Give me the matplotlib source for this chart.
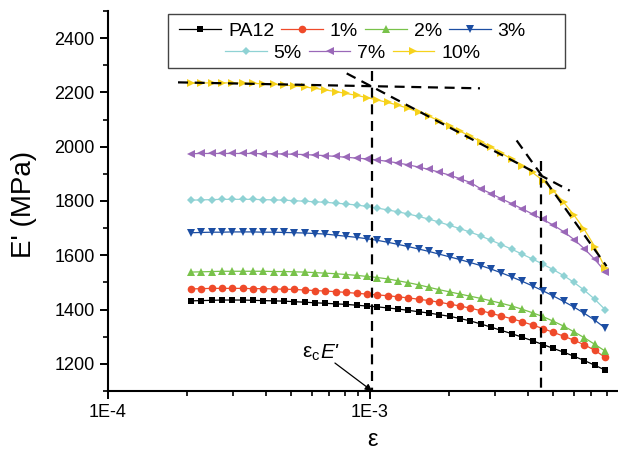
import numpy as np
import matplotlib
matplotlib.use("Agg")
import matplotlib.pyplot as plt
from matplotlib.ticker import FixedLocator, LogLocator, NullFormatter, MultipleLocator
from matplotlib.patches import Rectangle

plt.rcParams['font.family'] = ['Liberation Sans', 'DejaVu Sans']
plt.rcParams['mathtext.fontset'] = 'custom'
plt.rcParams['mathtext.rm'] = 'Liberation Sans'
plt.rcParams['mathtext.it'] = 'Liberation Sans:italic'

# strain amplitude (same grid for all samples)
strain = [2.070e-4, 2.267e-4, 2.484e-4, 2.720e-4, 2.980e-4, 3.264e-4, 3.574e-4, 3.915e-4,
          4.288e-4, 4.697e-4, 5.145e-4, 5.635e-4, 6.173e-4, 6.761e-4, 7.406e-4, 8.111e-4,
          8.884e-4, 9.731e-4, 1.0659e-3, 1.1675e-3, 1.2788e-3, 1.4007e-3, 1.5343e-3,
          1.6805e-3, 1.8408e-3, 2.0162e-3, 2.2080e-3, 2.4190e-3, 2.6490e-3, 2.9020e-3,
          3.1780e-3, 3.4810e-3, 3.8130e-3, 4.1760e-3, 4.5750e-3, 5.0110e-3, 5.4880e-3,
          6.0120e-3, 6.5840e-3, 7.2130e-3, 7.9000e-3]

# storage modulus E' (MPa)
pa12 = [1432, 1433, 1434, 1435, 1435, 1435, 1434, 1433, 1432, 1431,
        1429, 1427, 1425, 1423, 1421, 1419, 1416, 1413, 1410, 1406,
        1402, 1397, 1392, 1387, 1381, 1375, 1367, 1358, 1347, 1335,
        1323, 1311, 1298, 1285, 1271, 1257, 1243, 1228, 1212, 1195, 1177]
p1 = [1476, 1477, 1478, 1478, 1478, 1478, 1477, 1477, 1476, 1475,
      1474, 1472, 1470, 1468, 1466, 1463, 1460, 1457, 1454, 1451,
      1447, 1443, 1438, 1433, 1427, 1420, 1413, 1405, 1396, 1386,
      1376, 1366, 1355, 1343, 1330, 1316, 1302, 1287, 1270, 1250, 1224]
p2 = [1538, 1539, 1540, 1541, 1541, 1541, 1541, 1541, 1540, 1540,
      1539, 1538, 1536, 1534, 1532, 1529, 1526, 1522, 1518, 1513,
      1506, 1499, 1491, 1482, 1473, 1465, 1457, 1449, 1441, 1432,
      1423, 1413, 1401, 1388, 1374, 1357, 1339, 1318, 1296, 1272, 1247]
p3 = [1683, 1684, 1685, 1685, 1686, 1686, 1686, 1685, 1685, 1684,
      1683, 1682, 1680, 1678, 1674, 1670, 1666, 1661, 1655, 1648,
      1640, 1632, 1623, 1614, 1604, 1594, 1584, 1573, 1562, 1549,
      1535, 1520, 1504, 1487, 1469, 1450, 1430, 1409, 1386, 1361, 1332]
p5 = [1803, 1804, 1805, 1806, 1806, 1806, 1806, 1805, 1804, 1803,
      1801, 1799, 1797, 1795, 1792, 1789, 1785, 1780, 1774, 1767,
      1760, 1752, 1743, 1733, 1722, 1710, 1698, 1685, 1671, 1655,
      1639, 1622, 1604, 1586, 1567, 1547, 1525, 1500, 1471, 1438, 1400]
p7 = [1974, 1975, 1975, 1975, 1975, 1975, 1975, 1974, 1974, 1973,
      1972, 1971, 1969, 1967, 1964, 1961, 1958, 1955, 1951, 1946,
      1940, 1933, 1925, 1916, 1906, 1895, 1882, 1868, 1845, 1827,
      1808, 1790, 1771, 1752, 1732, 1711, 1687, 1658, 1624, 1585, 1540]
p10 = [2234, 2235, 2235, 2235, 2235, 2234, 2233, 2232, 2230, 2227,
       2224, 2220, 2215, 2209, 2203, 2196, 2189, 2181, 2172, 2163,
       2153, 2141, 2127, 2112, 2095, 2076, 2057, 2038, 2019, 1998,
       1976, 1954, 1930, 1905, 1875, 1838, 1795, 1748, 1695, 1632, 1554]

labels = ['PA12', '1%', '2%', '3%', '5%', '7%', '10%']
series = [pa12, p1, p2, p3, p5, p7, p10]
colors = ['#000000', '#ef4a2a', '#78c24a', '#1c4ea3', '#8fd2d4', '#9a68b8', '#f6d21c']
markers = ['s', 'o', '^', 'v', 'D', '<', '>']
msizes = [5, 5.5, 6, 6, 4.5, 6, 6]

# construction lines for the critical strain (x pairs, y pairs)
tan_flat_x, tan_flat_y = [1.85e-4, 2.63e-3], [2237, 2215]
tan_1_x, tan_1_y = [8.15e-4, 5.79e-3], [2270, 1838]
tan_2_x, tan_2_y = [3.63e-3, 8.00e-3], [2023, 1560]
vline_1_x, vline_1_y = [1.019e-3, 1.019e-3], [2279, 1100]
vline_2_x, vline_2_y = [4.50e-3, 4.50e-3], [1949, 1100]

fig = plt.figure(figsize=(6.18, 4.55), dpi=100)
ax = fig.add_axes([0.1748, 0.1407, 0.8252, 0.8352])

handles = []
for y, lab, c, m, ms in zip(series, labels, colors, markers, msizes):
    h, = ax.plot(strain, y, color=c, marker=m, markersize=ms, markeredgewidth=0,
                 lw=0.9, label=lab)
    handles.append(h)

dash = dict(color='black', lw=1.6, ls=(0, (4.5, 3)))
ax.plot(tan_flat_x, tan_flat_y, **dash)
ax.plot(tan_1_x, tan_1_y, **dash)
ax.plot(tan_2_x, tan_2_y, **dash)
ax.plot(vline_1_x, vline_1_y, **dash)
ax.plot(vline_2_x, vline_2_y, **dash)

ax.annotate('', xy=(1.019e-3, 1100), xytext=(7.35e-4, 1203),
            arrowprops=dict(arrowstyle='-|>', color='black', lw=0.9,
                            mutation_scale=10, shrinkA=0, shrinkB=0))
ax.text(6.45e-4, 1222, r"$\mathrm{\varepsilon}_{\mathrm{c}}$", fontsize=15,
        ha='right', va='baseline')
ax.text(6.45e-4, 1222, "E'", fontsize=15, style='italic', ha='left', va='baseline')

ax.set_xscale('log')
ax.set_xlim(1e-4, 8.85e-3)
ax.set_ylim(1100, 2500)
ax.xaxis.set_major_locator(FixedLocator([1e-4, 1e-3]))
ax.set_xticklabels(['1E-4', '1E-3'])
ax.xaxis.set_minor_locator(LogLocator(base=10, subs=np.arange(2, 10)))
ax.xaxis.set_minor_formatter(NullFormatter())
ax.yaxis.set_major_locator(FixedLocator([1200, 1400, 1600, 1800, 2000, 2200, 2400]))
ax.yaxis.set_minor_locator(MultipleLocator(100))

for s in ['top', 'right']:
    ax.spines[s].set_visible(False)
for s in ['left', 'bottom']:
    ax.spines[s].set_linewidth(1.5)
ax.tick_params(which='major', direction='out', length=6, width=1.4, labelsize=13)
ax.tick_params(which='minor', direction='out', length=3.5, width=1.2)

ax.set_ylabel("E' (MPa)", fontsize=20)
ax.yaxis.set_label_coords(-0.139, 0.49)
ax.set_xlabel("ε", fontsize=17)
ax.xaxis.set_label_coords(0.518, -0.10)

# legend: two centred rows inside one frame
leg1 = fig.legend(handles[:4], labels[:4], ncol=4, loc='center', frameon=False,
                  bbox_to_anchor=(0.5704, 0.932), fontsize=14, numpoints=1,
                  handlelength=2.15, handletextpad=0.35, columnspacing=0.36,
                  borderpad=0.2)
leg2 = fig.legend(handles[4:], labels[4:], ncol=3, loc='center', frameon=False,
                  bbox_to_anchor=(0.5704, 0.884), fontsize=14, numpoints=1,
                  handlelength=2.15, handletextpad=0.35, columnspacing=0.36,
                  borderpad=0.2)
fig.patches.append(Rectangle((0.2718, 0.8505), 0.6424, 0.1187, transform=fig.transFigure,
                             fill=False, edgecolor='#444444', lw=1.0))

fig.savefig('out.png', dpi=100)
